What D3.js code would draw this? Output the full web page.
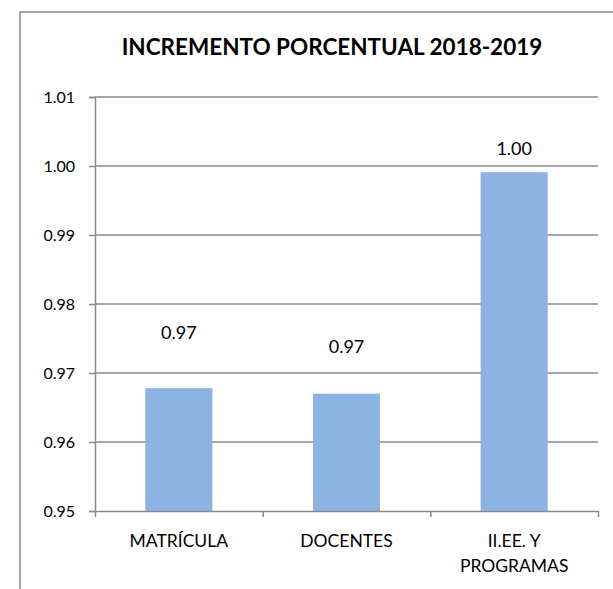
<!DOCTYPE html>
<html>
<head>
<meta charset="utf-8">
<script src="https://cdn.jsdelivr.net/npm/d3@7"></script>
<style>
  body { margin: 0; background: #fff; }
  svg { display: block; }
</style>
</head>
<body>
<div id="chart"></div>
<script>
// values
const categories = [["MATRÍCULA"], ["DOCENTES"], ["II.EE. Y", "PROGRAMAS"]];
const values = [0.9678, 0.9670, 0.9991];
const yTicks = [0.95, 0.96, 0.97, 0.98, 0.99, 1.00, 1.01];
const title = "INCREMENTO PORCENTUAL 2018-2019";

// layout
const W = 613, H = 589;
const plot = { left: 95, right: 598, top: 97, bottom: 511 };
const labelLift = [49, 41, 17];   // data labels were dragged in the original
const gridColor = "#8a8a8a";
const barColor = "#8db3e2";
const font = "Lato, 'Open Sans', sans-serif";

const svg = d3.select("#chart").append("svg")
    .attr("width", W)
    .attr("height", H);

// outer frame (runs off the right and bottom edge)
svg.append("rect")
    .attr("x", 20).attr("y", 12)
    .attr("width", 620).attr("height", 620)
    .style("fill", "none")
    .style("stroke", gridColor)
    .style("stroke-width", 1.5);

svg.append("text")
    .attr("x", 332).attr("y", 55)
    .attr("text-anchor", "middle")
    .style("font-family", font)
    .style("font-weight", "bold")
    .style("font-size", "22.5px")
    .attr("fill", "#000")
    .text(title);

const x = d3.scaleBand()
    .domain(d3.range(categories.length))
    .range([plot.left, plot.right])
    .paddingInner(0.6)
    .paddingOuter(0.3);

const y = d3.scaleLinear()
    .domain([0.95, 1.01])
    .range([plot.bottom, plot.top]);

// gridlines
svg.append("g")
    .selectAll("line")
    .data(yTicks.slice(1))
    .enter().append("line")
    .attr("x1", plot.left).attr("x2", plot.right)
    .attr("y1", d => y(d)).attr("y2", d => y(d))
    .style("stroke", gridColor)
    .style("stroke-width", 1.5);

// bars
svg.append("g")
    .selectAll("rect")
    .data(values)
    .enter().append("rect")
    .attr("x", (d, i) => x(i))
    .attr("y", d => y(d))
    .attr("width", x.bandwidth())
    .attr("height", d => y(0.95) - y(d))
    .style("fill", barColor);

// y axis
const yAxis = svg.append("g")
    .attr("transform", `translate(${plot.left},0)`)
    .call(d3.axisLeft(y).tickValues(yTicks).tickFormat(d3.format(".2f")).tickSize(6).tickPadding(14));
yAxis.select(".domain").style("stroke", gridColor).style("stroke-width", 1.5);
yAxis.selectAll(".tick line").style("stroke", gridColor).style("stroke-width", 1.5);
yAxis.selectAll("text")
    .style("font-family", font)
    .style("font-size", "16px")
    .attr("fill", "#000");

// x axis: ticks sit on the category boundaries
const xLine = d3.scaleLinear().domain([0, categories.length]).range([plot.left, plot.right]);
const xAxis = svg.append("g")
    .attr("transform", `translate(0,${plot.bottom})`)
    .call(d3.axisBottom(xLine).ticks(categories.length).tickFormat("").tickSize(6).tickSizeOuter(0));
xAxis.select(".domain").style("stroke", gridColor).style("stroke-width", 1.5);
xAxis.selectAll(".tick line").style("stroke", gridColor).style("stroke-width", 1.5);

// category labels
const catText = svg.append("g")
    .selectAll("text")
    .data(categories)
    .enter().append("text")
    .attr("x", (d, i) => x(i) + x.bandwidth() / 2)
    .attr("y", 547)
    .attr("text-anchor", "middle")
    .style("font-family", font)
    .style("font-size", "17.5px")
    .attr("fill", "#000");
catText.selectAll("tspan")
    .data(d => d)
    .enter().append("tspan")
    .attr("x", function() { return d3.select(this.parentNode).attr("x"); })
    .attr("dy", (d, i) => i === 0 ? 0 : 25)
    .text(d => d);

// data labels
svg.append("g")
    .selectAll("text")
    .data(values)
    .enter().append("text")
    .attr("x", (d, i) => x(i) + x.bandwidth() / 2)
    .attr("y", (d, i) => y(d) - labelLift[i])
    .attr("text-anchor", "middle")
    .style("font-family", font)
    .style("font-size", "18px")
    .attr("fill", "#000")
    .text(d => d3.format(".2f")(d));
</script>
</body>
</html>
